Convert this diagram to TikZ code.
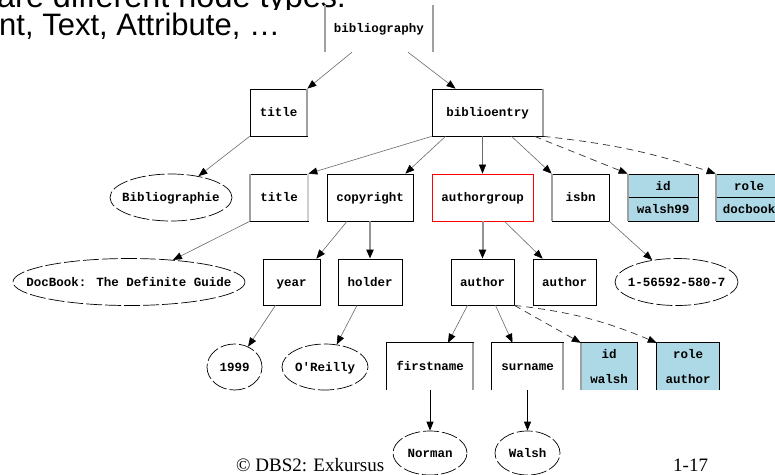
\documentclass[tikz,border=0pt]{standalone}
\usepackage{fontspec}
\setmainfont{Liberation Serif}
\newfontfamily\slidesans{Liberation Sans}
\newfontfamily\treemono{Liberation Mono}
\usetikzlibrary{arrows.meta,shapes.geometric}

\definecolor{attrblue}{HTML}{ADD8E6}
\definecolor{edgegray}{HTML}{6A6A6A}
\definecolor{sidegray}{HTML}{A0A0A0}

% zero-width text so that an ellipse keeps its given size
\newcommand\zw[1]{\makebox[0pt]{#1}}

\tikzset{
  treefont/.style={font=\treemono\bfseries\fontsize{12.5}{14}\selectfont,
    text height=8pt, text depth=0pt},
  elem/.style={treefont, rectangle, draw=black, line width=0.7pt, inner sep=0pt,
    minimum height=47pt},
  openbox/.style={treefont, rectangle, draw=none, inner sep=0pt, minimum height=47pt},
  textnode/.style={treefont, ellipse, draw=black, line width=0.7pt,
    dash pattern=on 16pt off 3pt, inner sep=0pt, minimum height=47pt},
  attrbox/.style={rectangle, draw=black, line width=0.7pt, fill=attrblue, inner sep=0pt,
    minimum height=47pt, align=center,
    font=\treemono\bfseries\fontsize{12.5}{23}\selectfont},
  attropen/.style={rectangle, draw=none, fill=attrblue, inner sep=0pt,
    minimum height=47pt, align=center,
    font=\treemono\bfseries\fontsize{12.5}{25}\selectfont},
  boxline/.style={draw=black, line width=0.7pt},
  gside/.style={draw=sidegray, line width=1.8pt},
  rootside/.style={draw=sidegray, line width=1.6pt},
  tip/.style={-{Triangle[length=9pt,width=7pt,color=black]}},
  thinedge/.style={tip, draw=edgegray, line width=0.6pt},
  thickedge/.style={tip, draw=gray!85, line width=2pt},
  darkedge/.style={tip, draw=black, line width=1pt},
  attredge/.style={tip, draw=black!80, line width=0.7pt, dash pattern=on 7pt off 5pt},
  slidetext/.style={inner sep=0pt, anchor=base west},
}

\begin{document}
\begin{tikzpicture}[x=1pt,y=-1pt]
\useasboundingbox (0,0) rectangle (775,474);
\fill[white] (0,0) rectangle (775,474);

% slide text; the upper line is covered below by the next line
\begin{scope}
  \clip (-5,-40) rectangle (360,9.5);
  \node[slidetext, font=\slidesans\fontsize{32.4}{36}\selectfont] (head1) at (-3,7) {are different node types:};
\end{scope}
\node[slidetext, font=\slidesans\fontsize{31}{36}\selectfont] (head2) at (-1,35) {nt, Text, Attribute, …};

% root
\node[openbox, minimum width=108pt] (bib) at (379,28.5) {bibliography};
\draw[rootside] (bib.north west) -- (bib.south west) (bib.north east) -- (bib.south east);

% level 1
\node[elem, minimum width=57pt] (title1) at (278.5,112.5) {title};
\node[elem, minimum width=111pt] (entry) at (487.5,112.5) {biblioentry};

% level 2
\node[textnode, minimum width=122pt] (biblio) at (171,197.5) {\zw{Bibliographie}};
\node[elem, minimum width=58pt] (title2) at (279,197.5) {title};
\node[elem, minimum width=86pt] (copy) at (370,197.5) {copyright};
\node[elem, draw=red, minimum width=101pt] (agroup) at (482.5,197.5) {authorgroup};
\node[elem, minimum width=57pt] (isbn) at (580.5,197.5) {isbn};
\node[attrbox, minimum width=70pt] (id1) at (663,197.5) {id\\walsh99};
\draw[boxline] (id1.west) -- (id1.east);
\node[attrbox, minimum width=66pt] (role1) at (749,197.5) {role\\docbook};
\draw[boxline] (role1.west) -- (role1.east);

% level 3
\node[textnode, minimum width=232pt] (dbtitle) at (129,282) {\zw{DocBook: The Definite Guide}};
\node[elem, minimum width=57pt, minimum height=46pt] (year) at (291.5,282) {year};
\node[elem, minimum width=64pt, minimum height=46pt] (holder) at (370,282) {holder};
\node[elem, minimum width=63pt, minimum height=46pt] (author1) at (482.5,282) {author};
\node[elem, minimum width=63pt, minimum height=46pt] (author2) at (564.5,282) {author};
\node[textnode, minimum width=123pt] (isbnval) at (676.5,282) {\zw{1-56592-580-7}};

% level 4
\node[textnode, minimum width=55pt, minimum height=46pt] (yearval) at (234.5,367) {\zw{1999}};
\node[textnode, minimum width=86pt, minimum height=46pt] (holderval) at (325,367) {\zw{O\textquotesingle Reilly}};
\node[openbox, minimum width=86pt] (first) at (430,366.5) {firstname};
\node[openbox, minimum width=71pt] (sur) at (527.5,366.5) {surname};
\node[attropen, minimum width=56pt] (id2) at (609,366.5) {id\\walsh};
\node[attropen, minimum width=62pt] (role2) at (688,366.5) {role\\author};
\foreach \b in {first,sur,id2,role2}
  \draw[boxline] (\b.south west) |- (\b.north east) -- (\b.south east);

% level 5
\node[textnode, minimum width=74pt, minimum height=44pt] (fnval) at (430,453) {\zw{Norman}};
\node[textnode, minimum width=65pt, minimum height=44pt] (snval) at (527.5,453) {\zw{Walsh}};

% shaded box sides
\draw[gside] (title1.north east) -- (title1.south east);
\draw[gside] (entry.north east) -- (entry.south east);
\draw[gside] (title2.north west) -- (title2.south west);
\draw[gside, draw=sidegray!50] (title2.north east) -- (title2.south east);
\draw[gside] (isbn.north west) -- (isbn.south west);
\draw[gside] (id1.north west) -- (id1.south west);
\draw[gside] (role1.north west) -- (role1.south west);
\draw[gside] (first.north east) -- (first.south east);
\draw[gside] (sur.north east) -- (sur.south east);
\draw[gside] (id2.north west) -- (id2.south west);

% connectors
\draw[thinedge] ([xshift=-27pt]bib.south) -- (title1.north east);
\draw[thinedge] ([xshift=29pt]bib.south) -- ([xshift=-32pt]entry.north);
\draw[thinedge] (title1.south west) -- (biblio);
\draw[thinedge] (entry.south west) -- (title2.north east);
\draw[thinedge] ([xshift=-42pt]entry.south) -- ([xshift=-8pt]copy.north east);
\draw[thinedge] (agroup.north |- entry.south) -- (agroup.north);
\draw[thinedge] ([xshift=24pt]entry.south) -- (isbn.north west);
\draw[attredge] ([xshift=47pt]entry.south) -- (id1.north west);
\draw[attredge] (entry.south east) to[bend left=6] (role1.north west);
\draw[thinedge] (title2.south west) -- (dbtitle);
\draw[thinedge] ([xshift=-23pt]copy.south) -- ([xshift=-4pt]year.north east);
\draw[thickedge] (copy.south) -- (holder.north);
\draw[thickedge] (agroup.south) -- (author1.north);
\draw[thinedge] ([xshift=22pt]agroup.south) -- ([xshift=10pt]author2.north west);
\draw[thinedge] (isbn.south east) -- (isbnval);
\draw[thinedge] ([xshift=-16pt]year.south) -- (yearval);
\draw[thinedge] ([xshift=-13pt]holder.south) -- (holderval);
\draw[thinedge] ([xshift=-15pt]author1.south) -- ([xshift=18pt]first.north);
\draw[thinedge] ([xshift=13pt]author1.south) -- ([xshift=-15pt]sur.north);
\draw[attredge] (author1.south east) -- (id2.north west);
\draw[attredge] (author1.south east) to[bend left=8] (role2.north west);
\draw[darkedge] (first.south) -- (fnval);
\draw[darkedge] (sur.south) -- (snval);

% footer
\node[slidetext, font=\fontsize{19}{22}\selectfont] (foot) at (236,471) {© DBS2: Exkursus};
\node[slidetext, font=\fontsize{19}{22}\selectfont] (page) at (673,471) {1-17};
\end{tikzpicture}
\end{document}
